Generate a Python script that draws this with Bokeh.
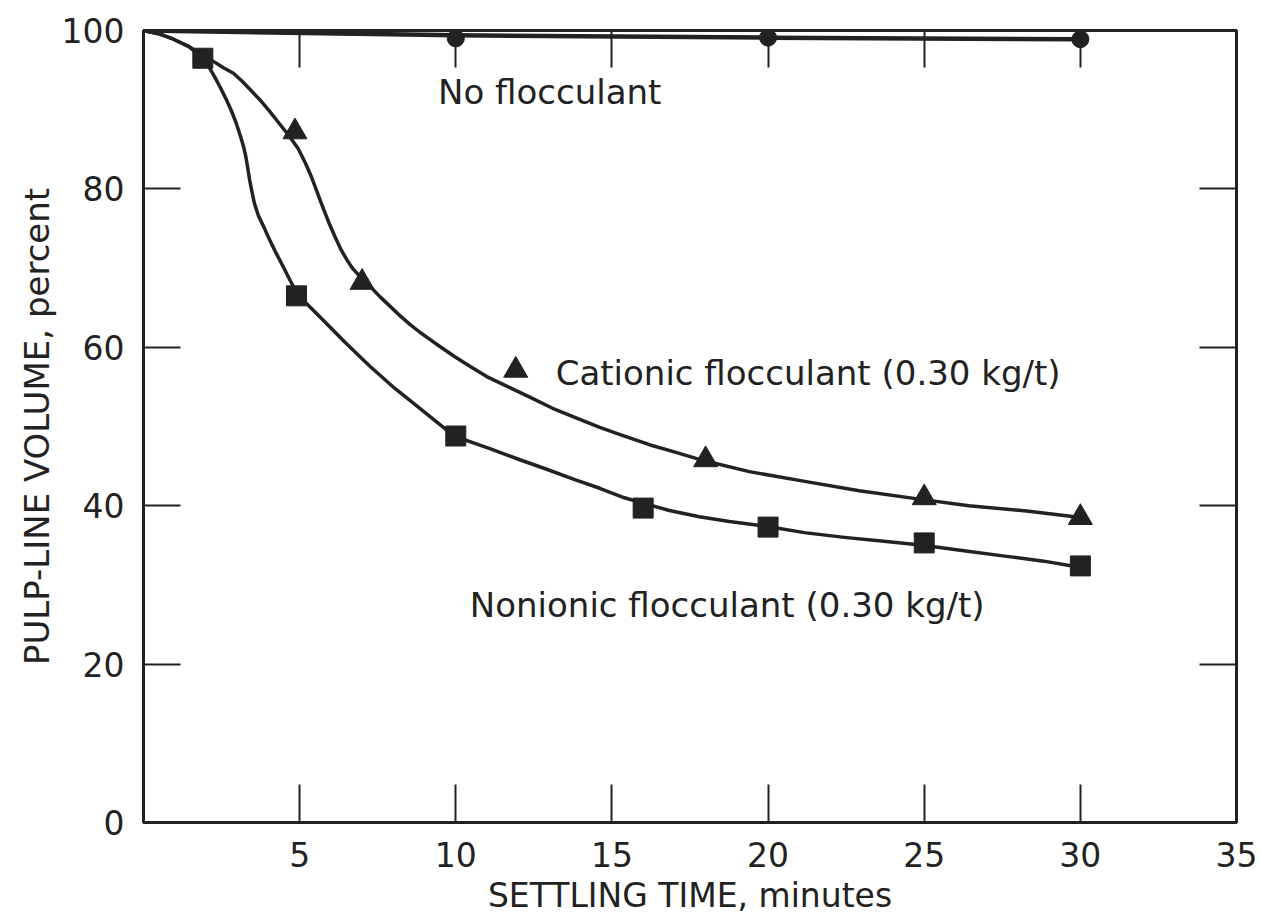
from bokeh.plotting import figure
from bokeh.models import Range1d, FixedTicker, LinearAxis, ColumnDataSource
from bokeh.core.properties import value
from bokeh.embed import file_html
from bokeh.resources import INLINE

# ---------------- data ----------------
x_ticks = [5, 10, 15, 20, 25, 30, 35]
y_ticks = [0, 20, 40, 60, 80, 100]
inner_x_ticks = [5, 10, 15, 20, 25, 30]
inner_y_ticks = [20, 40, 60, 80]

# No flocculant
none_pts_x = [10, 20, 30]
none_pts_y = [99.0, 99.1, 98.9]
none_curve_x = [0, 10, 20, 30]
none_curve_y = [100.0, 99.4, 99.1, 98.9]

# Cationic flocculant (0.30 kg/t)
cat_pts_x = [4.85, 7.0, 18.0, 25.0, 30.0]
cat_pts_y = [87.2, 68.2, 45.8, 41.0, 38.5]
cat_curve_x = [0.00, 0.48, 0.96, 1.44, 1.85, 2.24, 2.56, 2.88, 3.16, 3.45, 3.74, 4.06,
               4.38, 4.70, 4.95, 5.18, 5.37, 5.56, 5.75, 5.94, 6.14, 6.33, 6.52, 6.71,
               6.94, 7.25, 7.57, 7.89, 8.21, 8.53, 8.85, 9.17, 9.49, 9.97, 10.45, 10.99,
               11.73, 12.37, 13.10, 13.97, 14.61, 15.24, 16.20, 17.16, 17.93, 19.40,
               21.13, 22.92, 24.90, 26.43, 28.35, 30.01]
cat_curve_y = [100.0, 99.6, 98.9, 98.0, 97.0, 96.1, 95.3, 94.6, 93.6, 92.4, 91.2, 89.7,
               88.1, 86.5, 85.1, 83.3, 81.6, 79.6, 77.6, 75.7, 73.9, 72.3, 71.0, 69.9,
               68.9, 67.7, 66.4, 65.2, 64.0, 62.9, 61.9, 61.0, 60.1, 58.8, 57.6, 56.3,
               54.9, 53.7, 52.3, 50.9, 49.9, 49.0, 47.7, 46.6, 45.7, 44.3,
               43.1, 41.9, 40.8, 40.0, 39.3, 38.5]

# Nonionic flocculant (0.30 kg/t)
non_pts_x = [1.9, 4.9, 10.0, 16.0, 20.0, 25.0, 30.0]
non_pts_y = [96.5, 66.5, 48.8, 39.7, 37.3, 35.3, 32.4]
non_curve_x = [0.00, 0.48, 0.96, 1.44, 1.88, 2.08, 2.27, 2.46, 2.65, 2.81, 2.97, 3.10,
               3.20, 3.28, 3.34, 3.40, 3.47, 3.55, 3.68, 3.84, 4.00, 4.22, 4.47, 4.70,
               4.92, 5.18, 5.66, 6.46, 7.25, 8.05, 8.85, 9.91, 10.45, 11.09, 12.05,
               12.91, 13.81, 14.61, 15.40, 16.11, 16.84, 17.80, 18.76, 19.94, 21.16,
               22.44, 23.71, 24.96, 26.27, 27.64, 28.83, 29.88]
non_curve_y = [100.0, 99.6, 98.9, 98.0, 96.6, 95.5, 94.2, 92.8, 91.3, 89.9, 88.3, 86.7,
               85.4, 84.0, 82.6, 81.1, 79.7, 78.2, 76.6, 75.3, 73.9, 72.1, 70.2, 68.4,
               66.8, 65.7, 63.8, 60.6, 57.6, 54.8, 52.3, 48.9, 48.1, 47.2, 45.8,
               44.6, 43.3, 42.2, 41.0, 40.2, 39.4, 38.6, 38.0, 37.4, 36.6,
               36.0, 35.5, 35.0, 34.3, 33.6, 33.0, 32.3]

# legend marker beside the cationic label
cat_key_x = [11.92]
cat_key_y = [57.1]

labels = ["No flocculant", "Cationic flocculant (0.30 kg/t)", "Nonionic flocculant (0.30 kg/t)"]
label_x = [9.43, 13.2, 10.45]
label_y = [92.2, 56.8, 27.5]

# ---------------- styling ----------------
INK = "#222222"
FONT = "DejaVu Sans"

p = figure(width=1262, height=923, x_range=Range1d(0, 35), y_range=Range1d(0, 100),
           output_backend="svg", toolbar_location=None,
           min_border_left=143, min_border_right=26, min_border_top=30, min_border_bottom=101)
p.background_fill_color = "white"
p.border_fill_color = "white"
p.xgrid.visible = False
p.ygrid.visible = False
p.outline_line_color = INK
p.outline_line_width = 3

for ax in (p.xaxis[0], p.yaxis[0]):
    ax.axis_line_color = INK
    ax.axis_line_width = 3
    ax.major_tick_line_color = INK
    ax.major_tick_line_width = 2
    ax.major_tick_out = 0
    ax.minor_tick_line_color = None
    ax.major_label_text_font = FONT
    ax.major_label_text_font_size = "33px"
    ax.major_label_text_color = INK
    ax.axis_label_text_font = FONT
    ax.axis_label_text_font_size = "33px"
    ax.axis_label_text_font_style = "normal"
    ax.axis_label_text_color = INK

p.xaxis.ticker = FixedTicker(ticks=x_ticks)
p.xaxis.major_tick_in = 38
p.xaxis.major_label_standoff = 19
p.xaxis.axis_label = "SETTLING TIME, minutes"
p.xaxis.axis_label_standoff = 6

p.yaxis.ticker = FixedTicker(ticks=y_ticks)
p.yaxis.major_tick_in = 37
p.yaxis.major_label_standoff = 19
p.yaxis.major_label_orientation = "horizontal"
p.yaxis.axis_label = "PULP-LINE VOLUME, percent"
p.yaxis.axis_label_text_font_size = "34px"
p.yaxis.axis_label_standoff = 2

top = LinearAxis(ticker=FixedTicker(ticks=inner_x_ticks))
right = LinearAxis(ticker=FixedTicker(ticks=inner_y_ticks))
for ax in (top, right):
    ax.axis_line_color = INK
    ax.axis_line_width = 3
    ax.major_tick_line_color = INK
    ax.major_tick_line_width = 2
    ax.major_tick_in = 37
    ax.major_tick_out = 0
    ax.minor_tick_line_color = None
    ax.major_label_text_font_size = "0px"
    ax.major_label_text_color = None
    ax.major_label_standoff = 0
p.add_layout(top, "above")
p.add_layout(right, "right")

# curves
p.line(none_curve_x, none_curve_y, line_color=INK, line_width=4.5, line_join="round", line_cap="round")
p.line(cat_curve_x, cat_curve_y, line_color=INK, line_width=3.5, line_join="round", line_cap="round")
p.line(non_curve_x, non_curve_y, line_color=INK, line_width=3.5, line_join="round", line_cap="round")

# markers
p.scatter(none_pts_x, none_pts_y, marker="circle", size=17, fill_color=INK, line_color=INK)
p.scatter(cat_pts_x, cat_pts_y, marker="triangle", size=24, fill_color=INK, line_color=INK)
p.scatter(cat_key_x, cat_key_y, marker="triangle", size=24, fill_color=INK, line_color=INK)
p.scatter(non_pts_x, non_pts_y, marker="square", size=20, fill_color=INK, line_color=INK)

# text labels
src = ColumnDataSource(dict(x=label_x, y=label_y, t=labels))
p.text(x="x", y="y", text="t", source=src, text_font=value(FONT), text_font_size="34px",
       text_color=INK, text_align="left", text_baseline="middle")

open("out.html", "w").write(file_html(p, INLINE))
